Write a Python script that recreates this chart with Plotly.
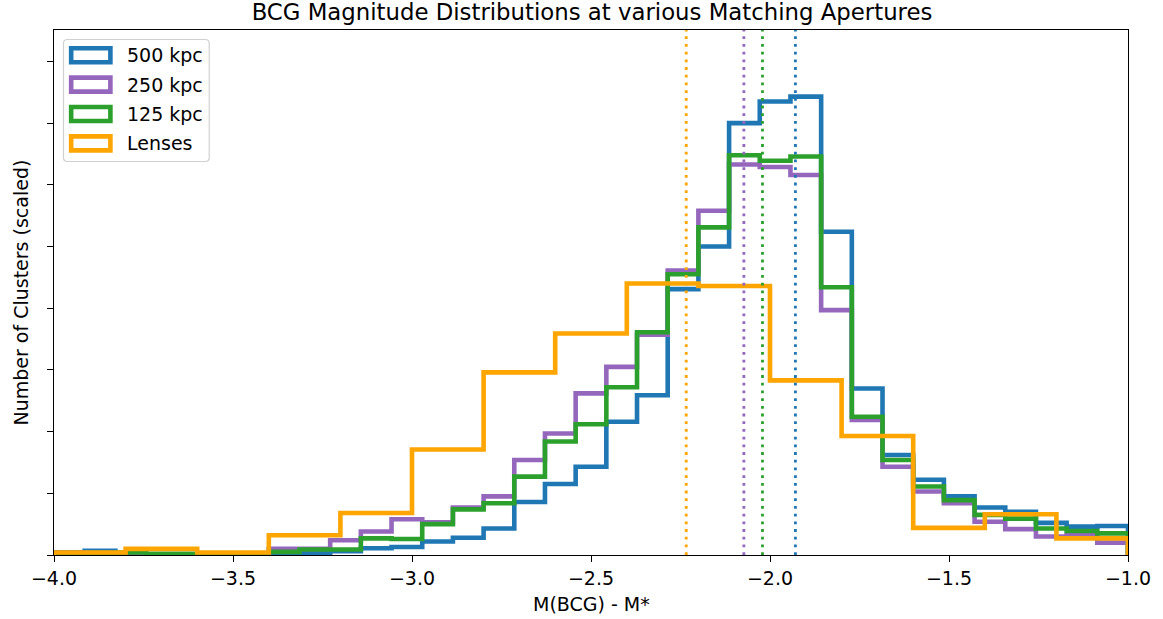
import numpy as np
import plotly.graph_objects as go

# Magnitude range and binning
x_min, x_max = -4.0, -1.0
n_fine_bins = 35      # aperture samples
n_lens_bins = 15      # lens sample

# Scaled cluster counts per bin (left to right)
counts_500kpc = [0.04, 0.07, 0.02, 0.01, 0.00, 0.00, 0.00, 0.00, 0.03, 0.06,
                 0.11, 0.13, 0.22, 0.28, 0.43, 0.86, 1.15, 1.43, 2.16, 2.59,
                 4.31, 5.00, 7.00, 7.35, 7.43, 5.24, 2.70, 1.62, 1.22, 0.95,
                 0.77, 0.70, 0.52, 0.46, 0.47]
counts_250kpc = [0.04, 0.03, 0.02, 0.01, 0.01, 0.00, 0.01, 0.10, 0.10, 0.24,
                 0.38, 0.58, 0.53, 0.77, 0.95, 1.54, 1.97, 2.62, 3.05, 3.57,
                 4.61, 5.58, 6.33, 6.29, 6.16, 3.97, 2.19, 1.43, 1.03, 0.84,
                 0.54, 0.42, 0.30, 0.32, 0.20]
counts_125kpc = [0.03, 0.03, 0.04, 0.02, 0.02, 0.02, 0.02, 0.05, 0.09, 0.09,
                 0.27, 0.26, 0.50, 0.74, 0.84, 1.27, 1.84, 2.12, 2.72, 3.61,
                 4.55, 5.31, 6.48, 6.39, 6.46, 4.34, 2.24, 1.54, 1.11, 0.89,
                 0.65, 0.59, 0.43, 0.39, 0.35]
counts_lenses = [0.04, 0.10, 0.04, 0.32, 0.68, 1.71, 2.96, 3.59, 4.40, 4.36,
                 2.83, 1.93, 0.44, 0.66, 0.27]

series_names = ["500 kpc", "250 kpc", "125 kpc", "Lenses"]
series_colors = ["#1f77b4", "#9467bd", "#2ca02c", "#ffa500"]
series_counts = [counts_500kpc, counts_250kpc, counts_125kpc, counts_lenses]
series_nbins = [n_fine_bins, n_fine_bins, n_fine_bins, n_lens_bins]

# Median M(BCG) - M* of each sample
median_offsets = [-1.929, -2.073, -2.021, -2.234]

x_ticks = [-4.0, -3.5, -3.0, -2.5, -2.0, -1.5, -1.0]
y_top = 8.51

FONT = "DejaVu Sans, Verdana, sans-serif"
W, H = 1163, 619
L, R, T, B = 54, 33, 30, 64
LINE_W = 4.6


def step_outline(edges, counts):
    """Outline of a step histogram (hv line shape)."""
    xs = [edges[0]] + list(edges[:-1]) + [edges[-1], edges[-1]]
    ys = [0.0] + list(counts) + [counts[-1], 0.0]
    return xs, ys


fig = go.Figure()

for name, color, counts, nb in zip(series_names, series_colors, series_counts, series_nbins):
    edges = np.linspace(x_min, x_max, nb + 1)
    xs, ys = step_outline(edges, counts)
    fig.add_trace(go.Scatter(
        x=xs, y=ys, mode="lines", name=name,
        line=dict(color=color, width=LINE_W, shape="hv"),
        showlegend=False, hoverinfo="skip",
    ))

# Median markers as dotted vertical lines
for color, med in zip(series_colors, median_offsets):
    fig.add_shape(type="line", xref="x", yref="paper", x0=med, x1=med, y0=0, y1=1,
                  line=dict(color=color, width=2.8, dash="2.8px,4.9px"), layer="above")

# Legend drawn in the upper-left corner of the axes
plot_w = W - L - R
plot_h = H - T - B


def px_x(p):
    return (p - L) / plot_w


def px_y(p):
    return (H - B - p) / plot_h


bx0, bx1, by0, by1, rad = 63.5, 209.5, 39.5, 161.5, 4.0
path = (
    f"M {px_x(bx0 + rad)} {px_y(by0)} L {px_x(bx1 - rad)} {px_y(by0)} "
    f"Q {px_x(bx1)} {px_y(by0)} {px_x(bx1)} {px_y(by0 + rad)} "
    f"L {px_x(bx1)} {px_y(by1 - rad)} "
    f"Q {px_x(bx1)} {px_y(by1)} {px_x(bx1 - rad)} {px_y(by1)} "
    f"L {px_x(bx0 + rad)} {px_y(by1)} "
    f"Q {px_x(bx0)} {px_y(by1)} {px_x(bx0)} {px_y(by1 - rad)} "
    f"L {px_x(bx0)} {px_y(by0 + rad)} "
    f"Q {px_x(bx0)} {px_y(by0)} {px_x(bx0 + rad)} {px_y(by0)} Z"
)
fig.add_shape(type="path", xref="paper", yref="paper", path=path,
              line=dict(color="#d0d0d0", width=1.2), fillcolor="rgba(255,255,255,0.8)",
              layer="above")

row0, row_gap = 55.2, 29.4
for i, (name, color) in enumerate(zip(series_names, series_colors)):
    cy = row0 + i * row_gap
    fig.add_shape(type="rect", xref="paper", yref="paper",
                  x0=px_x(71.2), x1=px_x(110.5), y0=px_y(cy - 7), y1=px_y(cy + 7),
                  line=dict(color=color, width=LINE_W), fillcolor="rgba(0,0,0,0)",
                  layer="above")
    fig.add_annotation(xref="paper", yref="paper", x=px_x(125.5), y=px_y(cy),
                       xanchor="left", yanchor="middle", text=name, showarrow=False,
                       font=dict(family=FONT, size=19, color="black"))

# Axis titles
fig.add_annotation(xref="paper", yref="paper", x=0.5, y=px_y(604),
                   xanchor="center", yanchor="middle", text="M(BCG) - M*",
                   showarrow=False, font=dict(family=FONT, size=19, color="black"))
fig.add_annotation(xref="paper", yref="paper", x=px_x(20), y=0.5,
                   xanchor="center", yanchor="middle", text="Number of Clusters (scaled)",
                   textangle=-90, showarrow=False,
                   font=dict(family=FONT, size=19, color="black"))

fig.update_layout(
    width=W, height=H,
    margin=dict(l=L, r=R, t=T, b=B),
    paper_bgcolor="white", plot_bgcolor="white",
    font=dict(family=FONT, size=19, color="black"),
    title=dict(text="BCG Magnitude Distributions at various Matching Apertures",
               x=0.5 * (L + W - R) / W, xanchor="center",
               y=(H - 12) / H, yanchor="middle", yref="container",
               font=dict(family=FONT, size=22.8, color="black")),
    showlegend=False,
)
fig.update_xaxes(range=[x_min, x_max], tickvals=x_ticks, tickformat=".1f",
                 ticks="outside", ticklen=6, tickwidth=1.4, tickcolor="black",
                 showline=True, linecolor="black", linewidth=1.4, mirror=True,
                 showgrid=False, zeroline=False,
                 tickfont=dict(family=FONT, size=19, color="black"))
fig.update_yaxes(range=[0, y_top], tick0=0, dtick=1, showticklabels=False,
                 ticks="outside", ticklen=6, tickwidth=1.4, tickcolor="black",
                 showline=True, linecolor="black", linewidth=1.4, mirror=True,
                 showgrid=False, zeroline=False)

fig.write_html("out.html")
